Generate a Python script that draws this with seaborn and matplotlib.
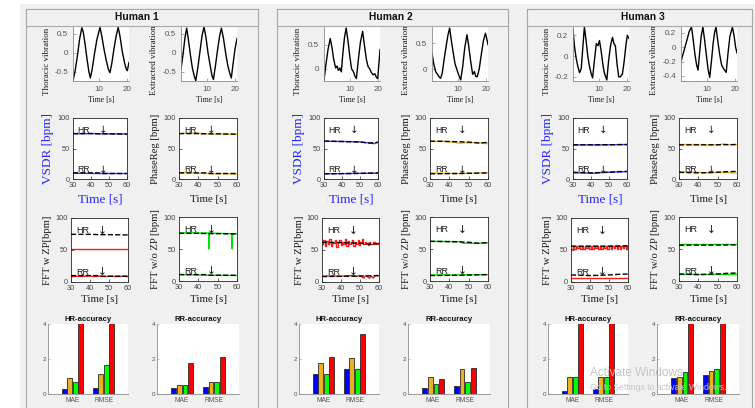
import matplotlib
matplotlib.use("Agg")
import matplotlib.pyplot as plt
from matplotlib.patches import Rectangle
import pandas as pd
import seaborn as sns

# ---------------- data ----------------
HUMANS = ["Human 1", "Human 2", "Human 3"]
METHODS = ["VSDR", "PhaseReg", "FFT w ZP", "FFT w/o ZP"]
METRICS = ["MAE", "RMSE"]
METHOD_YLABELS = ["VSDR [bpm]", "PhaseReg [bpm]", "FFT w ZP[bpm]", "FFT w/o ZP [bpm]"]
BAR_COLORS = ["#0000ff", "#edb120", "#00ff00", "#ff0000"]
LINE_COLORS = ["#3d3dff", "#edb120", "#ff1a1a", "#00e600"]

# vibration waveforms (time [s], amplitude)
H1_THORACIC = [(1.0, -0.74), (1.8, -0.45), (2.6, -0.05), (3.3, 0.35), (4.1, 0.66), (4.6, 0.55), (5.3, 0.2),
               (6.0, -0.2), (6.6, -0.5), (7.1, -0.66), (7.7, -0.45), (8.5, -0.05), (9.4, 0.35), (10.5, 0.67),
               (11.1, 0.45), (11.9, 0.1), (12.7, -0.2), (13.4, -0.42), (14.0, -0.52), (14.6, -0.3), (15.4, 0.1),
               (16.2, 0.45), (16.9, 0.67), (17.5, 0.45), (18.3, 0.05), (19.1, -0.25), (19.7, -0.42),
               (20.1, -0.47), (20.7, -0.25)]
H1_EXTRACTED = [(1.0, -0.43), (1.7, -0.05), (2.4, 0.4), (3.0, 0.65), (3.6, 0.35), (4.3, -0.05), (5.0, -0.4),
                (5.7, -0.62), (6.2, -0.73), (6.9, -0.4), (7.7, 0.05), (8.4, 0.45), (9.1, 0.68), (9.8, 0.4),
                (10.5, 0.0), (11.3, -0.35), (11.9, -0.6), (12.4, -0.7), (13.1, -0.35), (13.9, 0.1), (14.6, 0.45),
                (15.2, 0.65), (15.9, 0.4), (16.7, 0.0), (17.5, -0.35), (18.2, -0.55), (18.7, -0.66), (19.3, -0.3),
                (20.0, 0.1), (20.7, 0.38)]
H2_THORACIC = [(1.0, -0.23), (1.7, 0.1), (2.4, 0.4), (3.2, 0.63), (3.8, 0.45), (4.4, 0.2), (5.1, 0.02),
               (5.6, 0.06), (6.1, -0.03), (6.6, 0.02), (7.1, -0.06), (7.6, 0.3), (8.2, 0.65), (8.8, 0.85),
               (9.4, 0.6), (10.1, 0.25), (10.7, 0.0), (11.3, -0.05), (11.9, -0.15), (12.4, -0.2), (13.0, 0.15),
               (13.8, 0.55), (14.6, 0.78), (15.2, 0.5), (15.9, 0.2), (16.5, 0.05), (17.1, 0.0), (17.7, -0.08),
               (18.3, -0.12), (18.9, -0.1), (19.4, -0.17), (19.9, -0.2), (20.3, 0.1), (20.7, 0.4)]
H2_EXTRACTED = [(1.0, 0.3), (1.6, 0.1), (2.3, -0.05), (2.9, -0.1), (3.5, -0.15), (4.0, -0.18), (4.6, -0.08),
                (5.3, 0.2), (6.0, 0.45), (6.6, 0.65), (7.2, 0.79), (7.8, 0.55), (8.5, 0.3), (9.1, 0.1),
                (9.7, 0.0), (10.3, -0.1), (11.1, -0.21), (11.8, 0.05), (12.5, 0.4), (13.3, 0.66), (13.9, 0.45),
                (14.6, 0.15), (15.3, -0.1), (15.9, -0.05), (16.4, -0.14), (16.9, -0.15), (17.6, 0.0),
                (18.4, 0.3), (19.1, 0.55), (19.8, 0.69), (20.2, 0.6), (20.7, 0.47)]
H3_THORACIC = [(1.0, 0.26), (1.5, 0.1), (2.1, -0.02), (2.7, -0.1), (3.3, -0.16), (3.9, -0.12), (4.5, 0.1),
               (5.0, 0.28), (5.6, 0.15), (6.2, 0.0), (6.8, -0.1), (7.4, -0.17), (7.9, -0.21), (8.5, -0.05),
               (9.2, 0.12), (9.8, 0.1), (10.3, 0.15), (10.9, 0.05), (11.5, -0.08), (12.0, -0.16), (12.5, -0.2),
               (12.9, -0.23), (13.5, -0.05), (14.2, 0.1), (14.9, 0.18), (15.4, 0.12), (15.9, 0.1), (16.5, -0.08),
               (17.1, -0.2), (17.7, -0.2), (18.4, -0.17), (19.0, -0.05), (19.6, 0.1), (20.1, 0.2), (20.7, 0.17)]
H3_EXTRACTED = [(1.0, -0.2), (1.7, -0.1), (2.4, 0.0), (3.1, 0.1), (3.9, 0.22), (4.7, 0.28), (5.3, 0.1),
                (5.9, -0.1), (6.5, -0.25), (7.0, -0.32), (7.5, -0.1), (8.1, 0.15), (8.7, 0.28), (9.3, 0.1),
                (9.9, -0.1), (10.5, -0.3), (11.1, -0.42), (11.7, -0.2), (12.3, 0.05), (12.8, 0.2), (13.3, 0.28),
                (13.9, 0.1), (14.6, -0.1), (15.3, -0.25), (16.0, -0.3), (16.9, -0.35), (17.5, -0.1),
                (18.2, 0.15), (19.1, 0.28), (19.7, 0.15), (20.2, 0.0), (20.7, -0.08)]
WAVE_YLIMS = [((-0.74, 0.68), (-0.74, 0.68)), ((-0.25, 0.87), (-0.23, 0.81)), ((-0.24, 0.28), (-0.47, 0.28))]
WAVE_YTICKS = [([-0.5, 0, 0.5], [-0.5, 0, 0.5]), ([0, 0.5], [0, 0.5]), ([-0.2, 0, 0.2], [-0.4, -0.2, 0, 0.2])]

# reference HR / RR (black dashed)
H1_REF_HR_T = [30, 40, 45, 50, 60]
H1_REF_HR_V = [74.5, 74.5, 74, 74, 73.5]
H1_REF_RR_T = [30, 44, 46, 60]
H1_REF_RR_V = [10, 10, 9, 9]
H2_REF_HR_T = [30, 40, 45, 50, 55, 60]
H2_REF_HR_V = [62, 61.5, 61, 60.5, 59, 60]
H2_REF_RR_T = [30, 45, 60]
H2_REF_RR_V = [8.5, 9, 10]
H3_REF_HR_T = [30, 45, 60]
H3_REF_HR_V = [56, 56, 56.5]
H3_REF_RR_T = [30, 35, 40, 45, 50, 55, 60]
H3_REF_RR_V = [11, 10.5, 10, 10.5, 11, 12, 12.5]

# Human 1 estimates
H1_VSDR_HR_T = [30, 40, 50, 60]
H1_VSDR_HR_V = [74, 74.5, 74, 74]
H1_VSDR_RR_T = [30, 45, 60]
H1_VSDR_RR_V = [9.5, 9, 9]
H1_PHASE_HR_T = [30, 33, 36, 39, 42, 45, 48, 51, 54, 57, 60]
H1_PHASE_HR_V = [74, 75, 74.5, 75.5, 74, 74.5, 73.5, 74.5, 73, 73.5, 73]
H1_PHASE_RR_T = [30, 35, 40, 45, 50, 55, 60]
H1_PHASE_RR_V = [10, 10.5, 9.5, 9, 8.5, 8.5, 8]
H1_ZP_HR_T = [30, 60]
H1_ZP_HR_V = [51, 51]
H1_ZP_RR_T = [30, 33, 36, 39, 42, 45, 48, 51, 54, 57, 60]
H1_ZP_RR_V = [8, 9, 8.5, 9.5, 8.5, 9, 8.5, 9, 8.5, 9, 8.5]
H1_NOZP_HR_T = [30, 35, 40, 45.3, 45.5, 45.7, 50, 55, 57.3, 57.5, 57.7, 60]
H1_NOZP_HR_V = [75, 75.5, 75, 75, 50, 75, 74.5, 74, 74, 50, 74, 74]
H1_NOZP_RR_T = [30, 45, 60]
H1_NOZP_RR_V = [10, 9, 8.5]

# Human 2 estimates
H2_VSDR_HR_T = [30, 40, 50, 55, 58, 60]
H2_VSDR_HR_V = [62, 61.5, 61, 59, 58, 60.5]
H2_VSDR_RR_T = [30, 45, 60]
H2_VSDR_RR_V = [8.5, 9, 9.5]
H2_PHASE_HR_T = [30, 33, 36, 39, 42, 45, 48, 51, 54, 57, 60]
H2_PHASE_HR_V = [62, 61.5, 62.5, 61, 60.5, 58.5, 59.5, 59, 60, 58.5, 58]
H2_PHASE_RR_T = [30, 40, 45, 50, 60]
H2_PHASE_RR_V = [10, 9.5, 9, 9.5, 10]
H2_ZP_HR_T = [30, 30.75, 31.5, 32.25, 33, 33.75, 34.5, 35.25, 36, 36.75,
              37.5, 38.25, 39, 39.75, 40.5, 41.25, 42, 42.75, 43.5, 44.25,
              45, 45.75, 46.5, 47.25, 48, 48.75, 49.5, 50.25, 51, 51.75,
              52.5, 53.25, 54, 54.75, 55.5, 56.25, 57, 57.75, 58.5, 59.25, 60]
H2_ZP_HR_V = [60, 66, 56, 64, 59, 67, 57, 63, 61, 66,
              55, 62, 65, 58, 63, 60, 67, 56, 64, 59,
              62, 66, 57, 63, 60, 65, 58, 62, 67, 59,
              63, 61, 58, 62, 60, 59, 63, 60, 61, 59, 60]
H2_ZP_RR_T = [30, 35, 40, 45, 48, 50, 52, 53, 55, 56, 57, 58, 60]
H2_ZP_RR_V = [9, 9.5, 9, 10, 9, 10, 6, 10, 6, 9, 6, 10, 10]
H2_NOZP_HR_T = [30, 46, 47, 55, 60]
H2_NOZP_HR_V = [62, 61.5, 59, 59, 59.5]
H2_NOZP_RR_T = [30, 45, 60]
H2_NOZP_RR_V = [9.5, 9.5, 10]

# Human 3 estimates
H3_VSDR_HR_T = [30, 45, 60]
H3_VSDR_HR_V = [56, 56, 56.5]
H3_VSDR_RR_T = [30, 36, 42, 48, 54, 60]
H3_VSDR_RR_V = [10, 10, 9.5, 11, 11.5, 12]
H3_PHASE_HR_T = [30, 40, 50, 53, 56, 60]
H3_PHASE_HR_V = [56.5, 56.5, 56, 57.5, 56, 56.5]
H3_PHASE_RR_T = [30, 40, 45, 50, 55, 60]
H3_PHASE_RR_V = [11.5, 11, 10, 11, 10.5, 9.5]
H3_ZP_HR_T = [30, 30.8, 31.6, 32.4, 33.2, 34, 34.8, 35.6, 36.4, 37.2,
              38, 38.8, 39.6, 40.4, 41.2, 42, 42.8, 43.6, 44.4, 45.2,
              46, 46.8, 47.6, 48.4, 49.2, 50, 50.8, 51.6, 52.4, 53.2,
              54, 54.8, 55.6, 56.4, 57.2, 58, 58.8, 59.6, 60]
H3_ZP_HR_V = [52, 56.5, 52, 57, 52.5, 56.5, 52, 57, 52, 56.5,
              52.5, 57, 52, 56.5, 52, 57, 52.5, 56.5, 52, 57,
              52, 56.5, 52.5, 57, 52, 56.5, 52, 57, 52.5, 56.5,
              52, 57, 52, 56.5, 52.5, 57, 52, 56.5, 52]
H3_ZP_RR_T = [30, 60]
H3_ZP_RR_V = [6, 6]
H3_NOZP_HR_T = [30, 60]
H3_NOZP_HR_V = [57.5, 57.5]
H3_NOZP_RR_T = [30, 60]
H3_NOZP_RR_V = [11, 11]

# accuracy bars, order: VSDR, PhaseReg, FFT w ZP, FFT w/o ZP
H1_HR_MAE = [0.28, 0.91, 0.7, 4.6]
H1_HR_RMSE = [0.36, 1.14, 1.66, 4.6]
H1_RR_MAE = [0.35, 0.5, 0.5, 1.75]
H1_RR_RMSE = [0.42, 0.68, 0.68, 2.1]
H2_HR_MAE = [1.17, 1.77, 1.17, 2.1]
H2_HR_RMSE = [1.43, 2.08, 1.45, 3.41]
H2_RR_MAE = [0.33, 1.0, 0.58, 0.83]
H2_RR_RMSE = [0.43, 1.43, 0.71, 1.5]
H3_HR_MAE = [0.2, 1.0, 0.98, 4.6]
H3_HR_RMSE = [0.3, 1.0, 0.95, 4.6]
H3_RR_MAE = [0.92, 0.95, 1.23, 4.6]
H3_RR_RMSE = [1.1, 1.34, 1.44, 4.6]

WAVES = [(H1_THORACIC, H1_EXTRACTED), (H2_THORACIC, H2_EXTRACTED), (H3_THORACIC, H3_EXTRACTED)]
REFS = [((H1_REF_HR_T, H1_REF_HR_V), (H1_REF_RR_T, H1_REF_RR_V)),
        ((H2_REF_HR_T, H2_REF_HR_V), (H2_REF_RR_T, H2_REF_RR_V)),
        ((H3_REF_HR_T, H3_REF_HR_V), (H3_REF_RR_T, H3_REF_RR_V))]
ESTS = [
    [((H1_VSDR_HR_T, H1_VSDR_HR_V), (H1_VSDR_RR_T, H1_VSDR_RR_V)),
     ((H1_PHASE_HR_T, H1_PHASE_HR_V), (H1_PHASE_RR_T, H1_PHASE_RR_V)),
     ((H1_ZP_HR_T, H1_ZP_HR_V), (H1_ZP_RR_T, H1_ZP_RR_V)),
     ((H1_NOZP_HR_T, H1_NOZP_HR_V), (H1_NOZP_RR_T, H1_NOZP_RR_V))],
    [((H2_VSDR_HR_T, H2_VSDR_HR_V), (H2_VSDR_RR_T, H2_VSDR_RR_V)),
     ((H2_PHASE_HR_T, H2_PHASE_HR_V), (H2_PHASE_RR_T, H2_PHASE_RR_V)),
     ((H2_ZP_HR_T, H2_ZP_HR_V), (H2_ZP_RR_T, H2_ZP_RR_V)),
     ((H2_NOZP_HR_T, H2_NOZP_HR_V), (H2_NOZP_RR_T, H2_NOZP_RR_V))],
    [((H3_VSDR_HR_T, H3_VSDR_HR_V), (H3_VSDR_RR_T, H3_VSDR_RR_V)),
     ((H3_PHASE_HR_T, H3_PHASE_HR_V), (H3_PHASE_RR_T, H3_PHASE_RR_V)),
     ((H3_ZP_HR_T, H3_ZP_HR_V), (H3_ZP_RR_T, H3_ZP_RR_V)),
     ((H3_NOZP_HR_T, H3_NOZP_HR_V), (H3_NOZP_RR_T, H3_NOZP_RR_V))],
]
BARS = [((H1_HR_MAE, H1_HR_RMSE), (H1_RR_MAE, H1_RR_RMSE)),
        ((H2_HR_MAE, H2_HR_RMSE), (H2_RR_MAE, H2_RR_RMSE)),
        ((H3_HR_MAE, H3_HR_RMSE), (H3_RR_MAE, H3_RR_RMSE))]

# ---------------- layout (pixels) ----------------
W, H = 755, 408
SERIF = ["Liberation Serif", "DejaVu Serif"]
SANS = ["Liberation Sans", "DejaVu Sans"]
plt.rcParams["font.family"] = SANS
plt.rcParams["axes.unicode_minus"] = False

PANEL_DX = [0, 251, 500]
PANEL_BOX = [(26, 258), (277, 508), (527, 752)]
TITLE_X = [137, 391, 643]
WAVE_BOXES = [(73, 27, 129, 81), (181, 27, 237, 81)]
TRACE_BOXES = [(73, 118, 127, 179), (179, 118, 237, 179), (71, 218, 128, 282), (179, 217, 237, 281)]
BAR_BOXES = [(48, 324, 128, 394), (157, 324, 239, 394)]
BG = "#f0f0f0"
EDGE = "#a8a8a8"

fig = plt.figure(figsize=(W / 100, H / 100), dpi=100)
fig.patch.set_facecolor("white")

bg = fig.add_axes([0, 0, 1, 1], zorder=-10)
bg.set_xlim(0, W)
bg.set_ylim(H, 0)
bg.axis("off")
bg.add_patch(Rectangle((20, 4), W, H, facecolor=BG, edgecolor="none"))
for (pl, pr) in PANEL_BOX:
    bg.add_patch(Rectangle((pl, 9), pr - pl, 420, facecolor=BG, edgecolor=EDGE, linewidth=0.8))

top = fig.add_axes([0, 0, 1, 1], zorder=10)
top.set_xlim(0, W)
top.set_ylim(H, 0)
top.axis("off")
top.patch.set_visible(False)
for (pl, pr), tx, name in zip(PANEL_BOX, TITLE_X, HUMANS):
    top.add_patch(Rectangle((pl, 9), pr - pl, 17, facecolor=BG, edgecolor=EDGE, linewidth=0.8))
    top.text(tx, 17.5, name, ha="center", va="center", fontsize=7.4, fontweight="bold", color="#111111")


def px_axes(box, dx):
    l, t, r, b = box
    l += dx
    r += dx
    return fig.add_axes([l / W, 1 - b / H, (r - l) / W, (b - t) / H])


def set_ylab(ax, text, cx, cy, size, color="#1a1a1a", va="center"):
    ax.set_ylabel(text, fontsize=size, color=color, family=SERIF)
    lab = ax.yaxis.label
    lab.set_rotation_mode("default")
    lab.set_verticalalignment(va)
    lab.set_horizontalalignment("center")
    ax.yaxis.set_label_coords(cx / W, 1 - cy / H, transform=fig.transFigure)


def set_xlab(ax, text, cx, cy, size, color="#1a1a1a"):
    ax.set_xlabel(text, fontsize=size, color=color, family=SERIF)
    lab = ax.xaxis.label
    lab.set_verticalalignment("center")
    ax.xaxis.set_label_coords(cx / W, 1 - cy / H, transform=fig.transFigure)


WAVE_LABELS = ["Thoracic vibration", "Extracted vibration"]
WAVE_LAB_X = [47, 154.5]

for hi in range(3):
    dx = PANEL_DX[hi]
    # --- waveforms ---
    for wi in range(2):
        ax = px_axes(WAVE_BOXES[wi], dx)
        pts = WAVES[hi][wi]
        sns.lineplot(x=[p[0] for p in pts], y=[p[1] for p in pts], ax=ax, color="black",
                     linewidth=1.0, estimator=None, sort=False)
        ax.set_xlim(1, 20.7)
        ax.set_ylim(*WAVE_YLIMS[hi][wi])
        ax.set_xticks([10, 20], labels=["10", "20"])
        yt = WAVE_YTICKS[hi][wi]
        ax.set_yticks(yt, labels=[f"{v:g}" for v in yt])
        ax.set_facecolor("white")
        for s in ["top", "right"]:
            ax.spines[s].set_visible(False)
        for s in ["left", "bottom"]:
            ax.spines[s].set_color("#8a8a8a")
            ax.spines[s].set_linewidth(0.6)
        ax.tick_params(direction="in", length=2, width=0.5, color="#8a8a8a",
                       labelsize=5.8, labelcolor="#555555", pad=3.5)
        l, t, r, b = WAVE_BOXES[wi]
        set_ylab(ax, WAVE_LABELS[wi], WAVE_LAB_X[wi] + dx, 95, 6.5, va="bottom")
        set_xlab(ax, "Time [s]", (l + r) / 2 + dx, 100, 5.6)

    # --- HR / RR traces ---
    for mi in range(4):
        box = TRACE_BOXES[mi]
        ax = px_axes(box, dx)
        ax.set_facecolor("white")
        (hr_t, hr_v), (rr_t, rr_v) = ESTS[hi][mi]
        ds = "steps-post" if mi == 2 else "default"
        sns.lineplot(x=hr_t, y=hr_v, ax=ax, color=LINE_COLORS[mi], linewidth=1.0,
                     estimator=None, sort=False, drawstyle=ds)
        sns.lineplot(x=rr_t, y=rr_v, ax=ax, color=LINE_COLORS[mi], linewidth=1.0,
                     estimator=None, sort=False)
        (rh_t, rh_v), (rr2_t, rr2_v) = REFS[hi]
        for tt, vv in [(rh_t, rh_v), (rr2_t, rr2_v)]:
            sns.lineplot(x=tt, y=vv, ax=ax, color="black", linewidth=1.0, linestyle="--",
                         estimator=None, sort=False, zorder=3)
        ax.set_xlim(30, 60)
        ax.set_ylim(0, 100)
        ax.set_xticks([30, 40, 50, 60], labels=["30", "40", "50", "60"])
        ax.set_yticks([0, 50, 100], labels=["0", "50", "100"])
        for s in ax.spines.values():
            s.set_color("#262626")
            s.set_linewidth(0.6)
        ax.tick_params(direction="in", length=2, width=0.5, color="#262626",
                       labelsize=5.3, labelcolor="#444444", pad=2.5)
        ts = 6.2 if mi < 2 else 6.5
        ax.text(32.6, 80, "HR", fontsize=ts, va="center", color="#1a1a1a")
        ax.text(44.3, 80, "\u2193", fontsize=ts + 1.2, va="center", color="#1a1a1a", family=["DejaVu Sans"])
        ax.text(32.6, 15, "RR", fontsize=ts, va="center", color="#1a1a1a")
        ax.text(44.3, 15, "\u2193", fontsize=ts + 1.2, va="center", color="#1a1a1a", family=["DejaVu Sans"])
        l, t, r, b = box
        if mi == 0:
            set_ylab(ax, METHOD_YLABELS[mi], 48 + dx, (t + b) / 2, 9.5, color="#2525ff")
            set_xlab(ax, "Time [s]", (l + r) / 2 + dx, 199, 9.5, color="#2525ff")
        else:
            lab_x = 48 if mi == 2 else 156
            xlab_y = 199 if mi == 1 else 299
            set_ylab(ax, METHOD_YLABELS[mi], lab_x + dx, (t + b) / 2, 7.7)
            set_xlab(ax, "Time [s]", (l + r) / 2 + dx, xlab_y, 7.8)

    # --- accuracy bars ---
    for bi, title in enumerate(["HR-accuracy", "RR-accuracy"]):
        ax = px_axes(BAR_BOXES[bi], dx)
        mae, rmse = BARS[hi][bi]
        rows = []
        for metric, vals in zip(METRICS, [mae, rmse]):
            for m, v in zip(METHODS, vals):
                rows.append({"metric": metric, "method": m, "value": v})
        df = pd.DataFrame(rows)
        sns.barplot(data=df, x="metric", y="value", hue="method", order=METRICS, hue_order=METHODS,
                    palette=BAR_COLORS, saturation=1, width=0.72, gap=0.14, edgecolor="#2b2b2b",
                    linewidth=0.6, errorbar=None, legend=False, ax=ax)
        ax.set_xlim(-0.79, 1.79)
        ax.set_ylim(0, 4)
        ax.set_yticks([0, 2, 4], labels=["0", "2", "4"])
        ax.set_xlabel("")
        ax.set_ylabel("")
        ax.set_facecolor("white")
        for s in ["top", "right"]:
            ax.spines[s].set_visible(False)
        for s in ["left", "bottom"]:
            ax.spines[s].set_color("#8c8c8c")
            ax.spines[s].set_linewidth(0.6)
        ax.tick_params(axis="y", direction="in", length=1.5, width=0.4, color="#8c8c8c",
                       labelsize=4.5, labelcolor="#555555", pad=1.5)
        ax.tick_params(axis="x", length=0, labelsize=4.8, labelcolor="#555555", pad=2.5)
        ax.set_title(title, fontsize=5.6, fontweight="bold", pad=2.2, color="#111111")

# Windows activation watermark visible in the screenshot
fig.text(590 / W, 1 - 373 / H, "Activate Windows", fontsize=8.5, color="#c4c4c4",
         va="center", ha="left", zorder=20)
fig.text(590 / W, 1 - 388 / H, "Go to Settings to activate Windows.", fontsize=6.2, color="#c4c4c4",
         va="center", ha="left", zorder=20)

fig.savefig("out.png", dpi=100, facecolor=fig.get_facecolor())
